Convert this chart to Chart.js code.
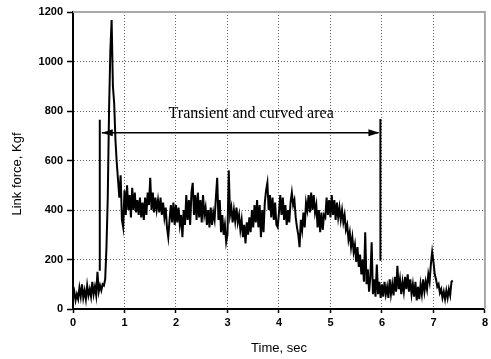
<!DOCTYPE html>
<html><head><meta charset="utf-8">
<script src="https://cdn.jsdelivr.net/npm/chart.js@4.4.1/dist/chart.umd.min.js"></script>
<style>html,body{margin:0;padding:0;background:#fff;} canvas{display:block;}</style>
</head><body>
<canvas id="c" width="491" height="359"></canvas>
<script>
const sampleStepSec = 0.025;
// Link force (Kgf), one array per second of the record
const force_0s = [45,70,35,60,40,85,50,100,45,75,40,95,55,80,50,110,60,90,55,150,
  70,95,75,100,95,120,250,450,800,1040,1168,900,830,680,590,520,450,540,360,330];
const force_1s = [480,380,500,400,460,370,490,400,470,390,440,380,450,370,430,360,450,380,470,420,
  530,400,470,390,450,400,440,390,450,380,430,370,410,330,290,360,420,350,430,340];
const force_2s = [420,350,410,340,380,290,400,340,460,360,440,340,470,510,380,460,360,470,370,440,
  350,460,380,410,340,400,330,410,340,390,360,450,530,360,440,310,380,300,340,270];
const force_3s = [300,560,380,410,350,400,355,410,350,380,320,360,290,340,265,350,300,370,310,400,
  330,420,350,440,330,420,290,400,310,430,480,510,400,460,370,450,360,430,340,330];
const force_4s = [390,460,380,450,360,420,340,400,350,430,470,420,440,370,330,300,250,360,320,390,
  330,430,400,460,390,470,400,460,390,420,330,400,310,390,320,380,370,450,380,440];
const force_5s = [370,460,380,440,360,430,370,410,360,400,350,380,320,340,280,310,250,290,230,260,
  190,250,170,220,140,200,110,310,100,160,70,130,270,60,120,50,180,60,110,45];
const force_6s = [100,50,110,60,90,45,120,60,100,55,130,70,175,80,120,60,110,70,130,80,
  140,70,120,60,100,50,110,35,90,40,100,60,120,70,110,80,140,110,180,230];
const force_7s = [190,140,120,90,100,65,80,45,70,40,75,45,80,55,110,115];

const xTickValues = [0,1,2,3,4,5,6,7,8];
const yTickValues = [0,200,400,600,800,1000,1200];
const xTitle = 'Time, sec';
const yTitle = 'Link force, Kgf';

// annotation: "Transient and curved area"
const annotationText = 'Transient and curved area';
const markerStartSec = 0.52, markerEndSec = 5.97;
const markerLeftForce = [155, 765];
const markerRightForce = [195, 768];
const arrowForce = 712;
const annotationTextSec = 3.46, annotationTextForce = 772;

const allForce = [].concat(force_0s, force_1s, force_2s, force_3s, force_4s, force_5s, force_6s, force_7s);
const points = allForce.map((v, i) => ({x: +(i * sampleStepSec).toFixed(3), y: v}));

const SANS = "'Liberation Sans', Arial, sans-serif";
const SERIF = "'Liberation Serif', 'Times New Roman', serif";

const decor = {
  id: 'decor',
  beforeDatasetsDraw(chart) {
    const {ctx, chartArea: a} = chart;
    ctx.save();
    ctx.strokeStyle = '#a8a8a8';
    ctx.lineWidth = 2;
    ctx.beginPath();
    ctx.moveTo(a.left, a.top); ctx.lineTo(a.right, a.top); ctx.lineTo(a.right, a.bottom);
    ctx.stroke();
    ctx.restore();
  },
  afterDatasetsDraw(chart) {
    const {ctx} = chart;
    const xs = chart.scales.x, ys = chart.scales.y;
    ctx.save();
    ctx.strokeStyle = '#000';
    ctx.fillStyle = '#000';
    ctx.lineWidth = 2;
    const xl = xs.getPixelForValue(markerStartSec), xr = xs.getPixelForValue(markerEndSec);
    ctx.beginPath();
    ctx.moveTo(xl, ys.getPixelForValue(markerLeftForce[0])); ctx.lineTo(xl, ys.getPixelForValue(markerLeftForce[1]));
    ctx.moveTo(xr, ys.getPixelForValue(markerRightForce[0])); ctx.lineTo(xr, ys.getPixelForValue(markerRightForce[1]));
    ctx.stroke();
    const ya = ys.getPixelForValue(arrowForce);
    ctx.lineWidth = 1.5;
    ctx.beginPath();
    ctx.moveTo(xl + 2, ya); ctx.lineTo(xr - 2, ya);
    ctx.stroke();
    // arrowheads
    ctx.beginPath();
    ctx.moveTo(xl + 2, ya); ctx.lineTo(xl + 13, ya - 3.5); ctx.lineTo(xl + 13, ya + 3.5); ctx.closePath();
    ctx.moveTo(xr - 1, ya); ctx.lineTo(xr - 12, ya - 3.5); ctx.lineTo(xr - 12, ya + 3.5); ctx.closePath();
    ctx.fill();
    // text
    ctx.font = '16px ' + SERIF;
    ctx.textAlign = 'center';
    ctx.textBaseline = 'alphabetic';
    ctx.fillText(annotationText, xs.getPixelForValue(annotationTextSec), ys.getPixelForValue(annotationTextForce));
    ctx.restore();
  },
  afterDraw(chart) {
    const {ctx, chartArea: a} = chart;
    ctx.save();
    ctx.fillStyle = '#000';
    ctx.font = '13px ' + SANS;
    ctx.textAlign = 'center';
    ctx.textBaseline = 'middle';
    ctx.fillText(xTitle, (a.left + a.right) / 2, 348);
    ctx.translate(17, 174);
    ctx.rotate(-Math.PI / 2);
    ctx.fillText(yTitle, 0, 0);
    ctx.restore();
  }
};

const gridColor = (max) => (c) => (c.tick && (c.tick.value === 0 || c.tick.value === max)) ? 'rgba(0,0,0,0)' : '#666';

new Chart(document.getElementById('c'), {
  type: 'line',
  data: {
    datasets: [{
      data: points,
      borderColor: '#000',
      borderWidth: 2,
      pointRadius: 0,
      tension: 0,
      fill: false
    }]
  },
  options: {
    responsive: false,
    animation: false,
    devicePixelRatio: 1,
    layout: {padding: {top: 12, right: 4, left: 0, bottom: 0}},
    plugins: {legend: {display: false}, tooltip: {enabled: false}},
    scales: {
      x: {
        type: 'linear', min: 0, max: 8,
        afterBuildTicks: (s) => { s.ticks = xTickValues.map(v => ({value: v})); },
        afterFit: (s) => { s.height = 50; },
        ticks: {color: '#000', font: {family: SANS, size: 11, weight: 'bold'}, padding: 3, maxRotation: 0,
                callback: (v) => String(v)},
        grid: {color: gridColor(8), lineWidth: 1, tickColor: '#000', tickLength: 4, tickWidth: 1.5, tickBorderDash: []},
        border: {display: true, color: '#000', width: 2, dash: [1, 2]}
      },
      y: {
        min: 0, max: 1200,
        afterBuildTicks: (s) => { s.ticks = yTickValues.map(v => ({value: v})); },
        afterFit: (s) => { s.width = 73; },
        ticks: {color: '#000', font: {family: SANS, size: 11, weight: 'bold'}, padding: 4,
                callback: (v) => String(v)},
        grid: {color: gridColor(1200), lineWidth: 1, tickColor: '#000', tickLength: 6, tickWidth: 1.5, tickBorderDash: []},
        border: {display: true, color: '#000', width: 2, dash: [1, 2]}
      }
    }
  },
  plugins: [decor]
});
</script>
</body></html>
